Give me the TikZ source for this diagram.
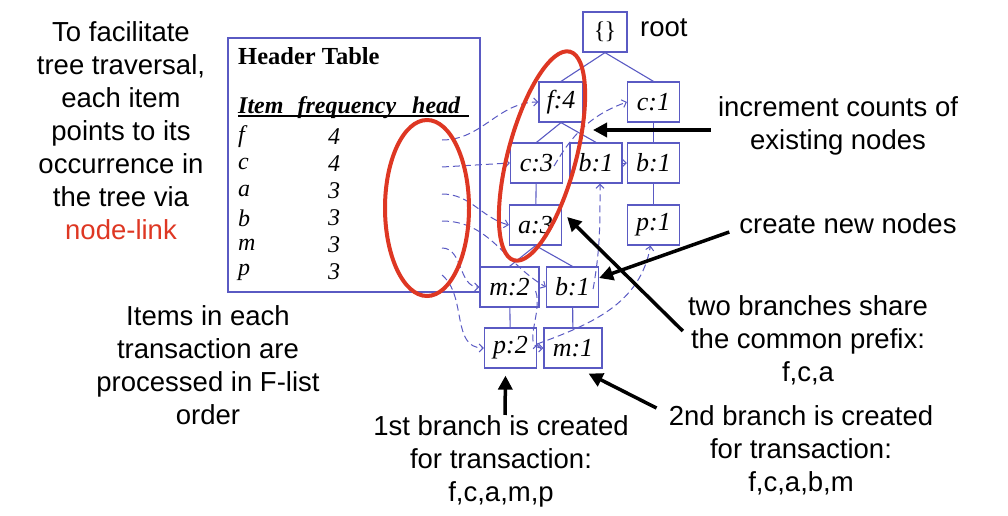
\documentclass[tikz,border=0pt]{standalone}
\usepackage{fontspec}
\setmainfont{Liberation Sans}
\newfontfamily\timesfont{Liberation Serif}
\usetikzlibrary{arrows.meta}
\definecolor{treeblue}{RGB}{90,90,195}
\definecolor{ringred}{RGB}{222,55,35}

\begin{document}
\begin{tikzpicture}[x=1pt,y=-1pt,
        fpnode/.style={draw=treeblue, line width=1.2pt, minimum width=52pt, minimum height=40pt, inner sep=0pt, font=\timesfont\itshape\fontsize{26}{28}\selectfont},
        treeline/.style={draw=treeblue, line width=1.1pt},
        link/.style={draw=treeblue, line width=1pt, dash pattern=on 7pt off 4pt, -{Straight Barb[length=4pt,width=8pt]}},
        callout/.style={line width=3.5pt, -{Triangle[length=14pt,width=14pt]}},
        note/.style={align=center, inner sep=0pt, font=\fontsize{27.5}{33}\selectfont},
        ring/.style={draw=ringred, line width=4pt},
        tabtext/.style={anchor=west, inner sep=0pt}]

                    \useasboundingbox (0,0) rectangle (1008,516);

                    % header table
                    \node (htable) at (354,165) [minimum width=252pt, minimum height=254pt, draw=treeblue, line width=1.2pt] {};
                    \node (htitle) [tabtext, font=\timesfont\bfseries\fontsize{24.5}{27}\selectfont] at (238,56) {Header Table};
                    \node (hcols) [tabtext, font=\timesfont\bfseries\itshape\fontsize{24}{27}\selectfont] at (238,108) {\rlap{\rule[-3pt]{231pt}{2pt}}Item\hspace{14pt}frequency\hspace{16pt}head};
                    \foreach \itm/\frq [count=\i] in {f/4,c/4,a/3,b/3,m/3,p/3} {
                        \node (item-\itm) [tabtext, font=\timesfont\itshape\fontsize{24}{27}\selectfont] at (238,110+27*\i) {\itm};
                        \node (freq-\itm) [tabtext, font=\timesfont\itshape\fontsize{24}{27}\selectfont] at (328,110+27*\i) {\frq};
                        \coordinate (head-\itm) at (442,113+27*\i);
                    }

                    % FP-tree
                    \node (root) [fpnode, minimum width=44pt, font=\timesfont\fontsize{24}{26}\selectfont] at (605,32) {\{\kern-1pt\}};
                    \node (f4) [fpnode, minimum width=44pt] at (561,102) {f:4};
                    \node (c1) [fpnode] at (653.5,102) {c:1};
                    \node (c3) [fpnode] at (536.5,163) {c:3};
                    \node (b1) [fpnode] at (596,163) {b:1};
                    \node (b1r) [fpnode] at (653.5,163) {b:1};
                    \node (a3) [fpnode] at (535.5,225) {a:3};
                    \node (p1) [fpnode] at (653.5,225) {p:1};
                    \node (m2) [fpnode, minimum width=59pt] at (509.5,287) {m:2};
                    \node (b1l) [fpnode] at (572.5,287) {b:1};
                    \node (p2) [fpnode] at (510.5,348) {p:2};
                    \node (m1) [fpnode, minimum width=58pt] at (573,348) {m:1};

                    \path [treeline]
                        (root.south) edge (f4.north)
                        (root.south) edge (c1.north)
                        (f4.south) edge (c3.north)
                        (f4.south) edge (b1.north)
                        (c1) edge (b1r)
                        (b1r) edge (p1)
                        (c3) edge (a3)
                        (a3.south) edge (m2.north)
                        (a3.south) edge (b1l.north)
                        (m2) edge (p2)
                        (b1l) edge (m1)
                    ;

                    % node-links
                    \path [link]
                        (head-f) edge [out=0, in=180] (f4.west)
                        (head-c) edge (c3.west)
                        (head-a) edge [out=0, in=165] (a3.west)
                        (head-b) edge [out=0, in=150] (b1l.west)
                        (head-m) edge [out=0, in=180] (m2.west)
                        (head-p) edge [out=-40, in=180] (p2.west)
                        ([xshift=-9pt,yshift=-3pt]c3.east) edge [out=60, in=200] (c1.west)
                        (b1.east) edge (b1r.west)
                        ([xshift=-6pt,yshift=-2pt]b1l.east) edge [out=80, in=-90] ([xshift=4pt]b1.south)
                        ([xshift=-4pt,yshift=-4pt]m2.east) edge [out=-70, in=180] (m1.west)
                        ([yshift=4pt]p2.east) edge [out=20, in=-100] ([xshift=-3pt]p1.south)
                    ;

                    % red rings
                    \draw [ring] (427,208) ellipse [x radius=42, y radius=88];
                    \draw [ring, rotate around={-15:(542,156)}] (542,156) ellipse [x radius=34, y radius=108];

                    % notes
                    \node (travnote) [note] at (121,131) {To facilitate\\tree traversal,\\each item\\points to its\\occurrence in\\the tree via\\\textcolor{ringred}{node-link}};
                    \node (ordernote) [note] at (208,365) {Items in each\\transaction are\\processed in F-list\\order};
                    \node (rootlabel) [note, anchor=west] at (640,28) {root};
                    \node (incnote) [note] at (838,126) {increment counts of\\existing nodes};
                    \node (newnote) [note] at (848,224) {create new nodes};
                    \node (sharenote) [note] at (808,340) {two branches share\\the common prefix:\\f,c,a};
                    \node (secondnote) [note] at (801,450) {2nd branch is created\\for transaction:\\f,c,a,b,m};
                    \node (firstnote) [note] at (501,461) {1st branch is created\\for transaction:\\f,c,a,m,p};

                    \coordinate (inctip) at (593,130);
                    \draw [callout] ([xshift=-7pt,yshift=-4pt]incnote.west) -- (inctip);
                    \draw [callout] ([xshift=-10pt,yshift=-8pt]newnote.west) -- ([yshift=9pt]b1l.east);
                    \draw [callout] ([xshift=-5pt,yshift=9pt]sharenote.west) -- ([xshift=5pt,yshift=8pt]a3.east);
                    \draw [callout] ([xshift=4pt]firstnote.north) -- ([xshift=-5pt,yshift=-7pt]p2.south);
                    \draw [callout] ([xshift=-12pt,yshift=-3pt]secondnote.north west) -- ([xshift=-14pt,yshift=-5pt]m1.south east);
                \end{tikzpicture}
\end{document}
